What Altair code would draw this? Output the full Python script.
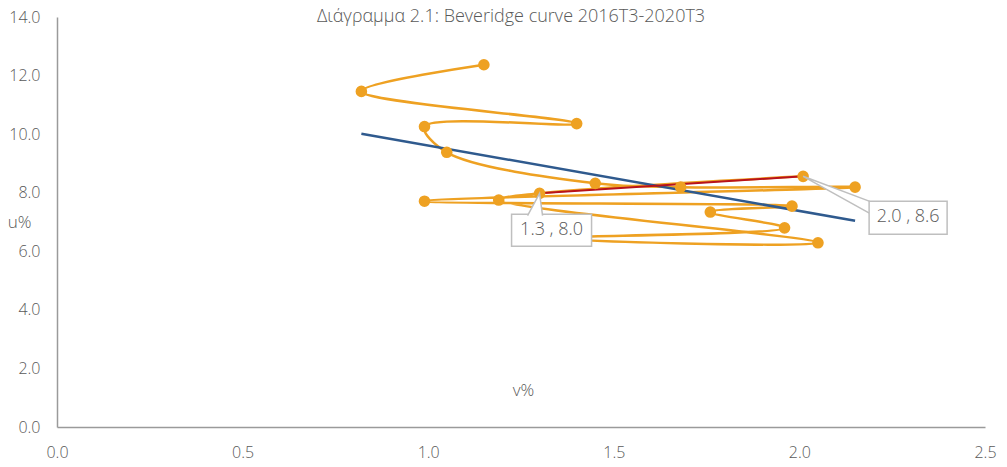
import altair as alt
import pandas as pd

# ---- data ----
quarters = ["2016T3", "2016T4", "2017T1", "2017T2", "2017T3", "2017T4",
            "2018T1", "2018T2", "2018T3", "2018T4", "2019T1", "2019T2",
            "2019T3", "2019T4", "2020T1", "2020T2", "2020T3"]
v_pct = [1.15, 0.82, 1.40, 0.99, 1.05, 1.45, 1.68, 2.15, 0.99, 1.98, 1.76,
         1.96, 1.33, 2.05, 1.19, 1.30, 2.01]
u_pct = [12.37, 11.46, 10.36, 10.26, 9.38, 8.32, 8.19, 8.19, 7.71, 7.54, 7.34,
         6.80, 6.45, 6.29, 7.75, 7.98, 8.56]
highlight_quarters = ["2020T2", "2020T3"]
label_texts = {"2020T2": "1.3 , 8.0", "2020T3": "2.0 , 8.6"}
x_ticks = [0.0, 0.5, 1.0, 1.5, 2.0, 2.5]
y_ticks = [0, 2, 4, 6, 8, 10, 12, 14]
title_text = "Διάγραμμα 2.1: Beveridge curve 2016T3-2020T3"

ORANGE = "#EEA122"
BLUE = "#2F5A8E"
RED = "#B8121B"
GREY_TXT = "#595959"
BOX = "#BFBFBF"
FONT = "Open Sans"
WEIGHT = 300

W, H = 928, 410

df = pd.DataFrame({"q": quarters, "seq": list(range(len(quarters))),
                   "v": v_pct, "u": u_pct})
df["label"] = df["q"].map(label_texts)
hl = df[df["q"].isin(highlight_quarters)]
lab1 = df[df["q"] == "2020T2"]
lab2 = df[df["q"] == "2020T3"]
tdf = pd.DataFrame({"t": [title_text]})

x_enc = alt.X("v:Q", scale=alt.Scale(domain=[0, 2.5], nice=False, zero=False),
              axis=alt.Axis(values=x_ticks, format=".1f", title="v%",
                            titleX=466, titleY=-37, titleAlign="center",
                            titleBaseline="middle", labelPadding=17))
y_enc = alt.Y("u:Q", scale=alt.Scale(domain=[0, 14], nice=False),
              axis=alt.Axis(values=y_ticks, format=".1f", title="u%",
                            titleAngle=0, titleX=-38, titleY=205,
                            titleAlign="center", titleBaseline="middle",
                            labelPadding=17))

base = alt.Chart(df)

path = base.mark_line(interpolate="catmull-rom", color=ORANGE, strokeWidth=2.5).encode(
    x=x_enc, y=y_enc, order="seq:Q")

trend = base.transform_regression("v", "u").mark_line(
    color=BLUE, strokeWidth=2.5).encode(x="v:Q", y="u:Q")

red = alt.Chart(hl).mark_line(color=RED, strokeWidth=2).encode(
    x="v:Q", y="u:Q", order="seq:Q")

dots = base.mark_point(filled=True, color=ORANGE, size=135, opacity=1).encode(
    x="v:Q", y="u:Q")

# callout 1 (below the point)
box1 = alt.Chart(lab1).mark_rect(fill="white", stroke=BOX, strokeWidth=1.5,
                                 xOffset=-28, x2Offset=52, yOffset=21, y2Offset=53).encode(
    x="v:Q", x2="v:Q", y="u:Q", y2="u:Q")
ptr1 = alt.Chart(lab1).mark_point(
    shape="M -0.571 1.06 L 0 0 L 0.143 1.06", size=1764, filled=False,
    fill="white", fillOpacity=1, stroke=BOX, strokeWidth=1.5, opacity=1).encode(
    x="v:Q", y="u:Q")
txt1 = alt.Chart(lab1).mark_text(font=FONT, fontSize=18, fontWeight=WEIGHT, color=GREY_TXT,
                                 dx=12, dy=37, align="center", baseline="middle").encode(
    x="v:Q", y="u:Q", text="label:N")

# callout 2 (to the right)
wedge2 = alt.Chart(lab2).mark_point(
    shape="M 1.01 0.379 L 0 0 L 1.01 0.561", size=17424, filled=False,
    fill="white", fillOpacity=1, stroke=BOX, strokeWidth=1.5, opacity=1).encode(
    x="v:Q", y="u:Q")
box2 = alt.Chart(lab2).mark_rect(fill="white", stroke=BOX, strokeWidth=1.5,
                                 xOffset=66, x2Offset=144, yOffset=25, y2Offset=58).encode(
    x="v:Q", x2="v:Q", y="u:Q", y2="u:Q")
txt2 = alt.Chart(lab2).mark_text(font=FONT, fontSize=18, fontWeight=WEIGHT, color=GREY_TXT,
                                 dx=105, dy=41, align="center", baseline="middle").encode(
    x="v:Q", y="u:Q", text="label:N")

# chart title, drawn inside the top of the plot like the reference
title = alt.Chart(tdf).mark_text(font=FONT, fontSize=18, fontWeight=WEIGHT,
                                 color=GREY_TXT, align="center", baseline="middle").encode(
    x=alt.value(454), y=alt.value(0), text="t:N")

chart = alt.layer(path, trend, red, dots, wedge2, box1, ptr1, txt1, box2, txt2, title).properties(
    width=W, height=H,
    padding={"left": 49, "top": 9, "right": 14, "bottom": 40},
    autosize=alt.AutoSizeParams(type="none"),
).configure_view(stroke=None).configure_axis(
    grid=False, ticks=False, tickSize=0, domainColor="#9A9A9A", domainWidth=1.5,
    labelFont=FONT, labelFontSize=16, labelFontWeight=WEIGHT, labelColor=GREY_TXT,
    titleFont=FONT, titleFontSize=17, titleFontWeight=WEIGHT, titleColor=GREY_TXT,
    labelFlush=False, labelOverlap=False
)

chart.save("out.html", embed_options={"renderer": "svg", "actions": False})
